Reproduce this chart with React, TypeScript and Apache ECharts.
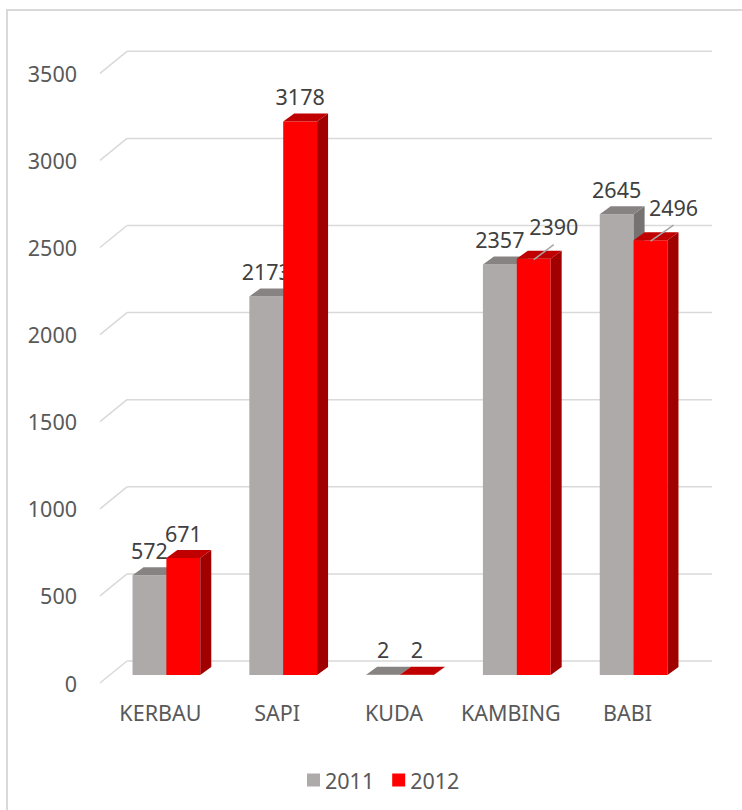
import React, { useEffect, useRef } from "react";
import * as echarts from "echarts";

const categories = ["KERBAU", "SAPI", "KUDA", "KAMBING", "BABI"];
const seriesNames = ["2011", "2012"];
const values2011 = [572, 2173, 2, 2357, 2645];
const values2012 = [671, 3178, 2, 2390, 2496];
const yTicks = [0, 500, 1000, 1500, 2000, 2500, 3000, 3500];

// styling
const FONT = "'Noto Sans', 'Open Sans', sans-serif";
const FS = 21.5;
const faceColors = [
  { front: "#AEAAAA", top: "#878383", side: "#767272" },
  { front: "#FF0000", top: "#C00000", side: "#A00000" },
];
const DEPTH_X = 11;
const DEPTH_Y = -8;
// label nudges (Excel moved these labels and drew leader lines)
const labelNudge: Record<string, [number, number]> = {
  "1-3": [20, -7],
  "1-4": [23, -8],
};

function makeBarRender(seriesIdx: number) {
  return (params: any, api: any) => {
    const cat = api.value(0);
    const val = api.value(1);
    const base = api.coord([cat, 0]);
    const top = api.coord([cat, val]);
    const band = api.size([1, 0])[0];
    const bw = band * 0.29;
    const x0 = seriesIdx === 0 ? base[0] - bw : base[0];
    const x1 = x0 + bw;
    const yb = base[1];
    const yt = top[1];
    const c = faceColors[seriesIdx];
    const children: any[] = [
      {
        type: "rect",
        shape: { x: x0, y: yt, width: bw, height: Math.max(yb - yt, 0) },
        style: { fill: c.front },
      },
      {
        type: "polygon",
        shape: {
          points: [
            [x1, yt],
            [x1 + DEPTH_X, yt + DEPTH_Y],
            [x1 + DEPTH_X, yb + DEPTH_Y],
            [x1, yb],
          ],
        },
        style: { fill: c.side },
      },
      {
        type: "polygon",
        shape: {
          points: [
            [x0, yt],
            [x1, yt],
            [x1 + DEPTH_X, yt + DEPTH_Y],
            [x0 + DEPTH_X, yt + DEPTH_Y],
          ],
        },
        style: { fill: c.top },
      },
    ];
    const cx = (x0 + x1) / 2;
    const cy = yt - 25;
    const nudge = labelNudge[seriesIdx + "-" + params.dataIndex];
    let lx = cx;
    let ly = cy;
    if (nudge) {
      lx = cx + nudge[0];
      ly = cy + nudge[1];
      children.push({
        type: "line",
        shape: { x1: cx, y1: yt + 1, x2: lx, y2: ly + 18 },
        style: { stroke: "#A6A6A6", lineWidth: 1.5 },
      });
    }
    children.push({
      type: "text",
      style: {
        text: String(val),
        x: lx,
        y: ly,
        fill: "#404040",
        fontSize: FS,
        fontFamily: FONT,
        align: "center",
        verticalAlign: "middle",
      },
    });
    return { type: "group", children };
  };
}

function gridRender(params: any, api: any) {
  const v = api.value(1);
  const y = api.coord([0, v])[1];
  const cs = params.coordSys;
  const style = { stroke: "#D9D9D9", lineWidth: 1.5 };
  return {
    type: "group",
    children: [
      {
        type: "line",
        shape: { x1: cs.x - 8, y1: y + 8, x2: cs.x + 19, y2: y - 14 },
        style,
      },
      {
        type: "line",
        shape: { x1: cs.x + 19, y1: y - 14, x2: cs.x + cs.width + 20, y2: y - 14 },
        style,
      },
    ],
  };
}

export default function App() {
  const ref = useRef<HTMLDivElement>(null);
  useEffect(() => {
    if (!ref.current) return;
    const chart = echarts.init(ref.current, null, { renderer: "svg" });
    const plotHeight = 609.7;
    chart.setOption({
      animation: false,
      backgroundColor: "#ffffff",
      textStyle: { fontFamily: FONT },
      graphic: [
        {
          type: "rect",
          shape: { x: 7, y: 10, width: 780, height: 840 },
          style: { fill: "none", stroke: "#D9D9D9", lineWidth: 2 },
          silent: true,
        },
      ],
      grid: [
        { left: 108, top: 675 - plotHeight, width: 584, height: plotHeight },
        { left: 108, top: 683 - plotHeight, width: 584, height: plotHeight },
      ],
      xAxis: [
        {
          type: "category",
          gridIndex: 0,
          data: categories,
          axisLine: { show: false },
          axisTick: { show: false },
          axisLabel: {
            interval: 0,
            margin: 26,
            fontSize: FS,
            color: "#595959",
            fontFamily: FONT,
            padding: [0, 12, 0, 0],
          },
        },
        { type: "category", gridIndex: 1, data: categories, show: false },
      ],
      yAxis: [
        {
          type: "value",
          gridIndex: 0,
          min: 0,
          max: 3500,
          interval: 500,
          axisLabel: { show: false },
          axisLine: { show: false },
          axisTick: { show: false },
          splitLine: { show: false },
        },
        {
          type: "value",
          gridIndex: 1,
          min: 0,
          max: 3500,
          interval: 500,
          axisLabel: {
            margin: 31,
            fontSize: FS,
            color: "#595959",
            fontFamily: FONT,
            formatter: (v: number) => String(v),
          },
          axisLine: { show: false },
          axisTick: { show: false },
          splitLine: { show: false },
        },
      ],
      legend: {
        data: seriesNames,
        left: 302,
        top: 764,
        icon: "rect",
        itemWidth: 13,
        itemHeight: 13,
        itemGap: 18,
        textStyle: { fontSize: FS, color: "#595959", fontFamily: FONT },
      },
      series: [
        {
          type: "custom",
          name: "grid",
          xAxisIndex: 0,
          yAxisIndex: 0,
          silent: true,
          z: 1,
          data: yTicks.map((v) => [0, v]),
          encode: { x: 0, y: 1 },
          renderItem: gridRender,
        },
        {
          type: "custom",
          name: seriesNames[0],
          xAxisIndex: 0,
          yAxisIndex: 0,
          z: 2,
          itemStyle: { color: faceColors[0].front },
          data: values2011.map((v, i) => [i, v]),
          encode: { x: 0, y: 1 },
          renderItem: makeBarRender(0),
        },
        {
          type: "custom",
          name: seriesNames[1],
          xAxisIndex: 0,
          yAxisIndex: 0,
          z: 3,
          itemStyle: { color: faceColors[1].front },
          data: values2012.map((v, i) => [i, v]),
          encode: { x: 0, y: 1 },
          renderItem: makeBarRender(1),
        },
      ],
    });
    return () => chart.dispose();
  }, []);
  return (
    <div
      ref={ref}
      style={{ position: "absolute", left: 0, top: 0, width: 742, height: 810 }}
    />
  );
}
